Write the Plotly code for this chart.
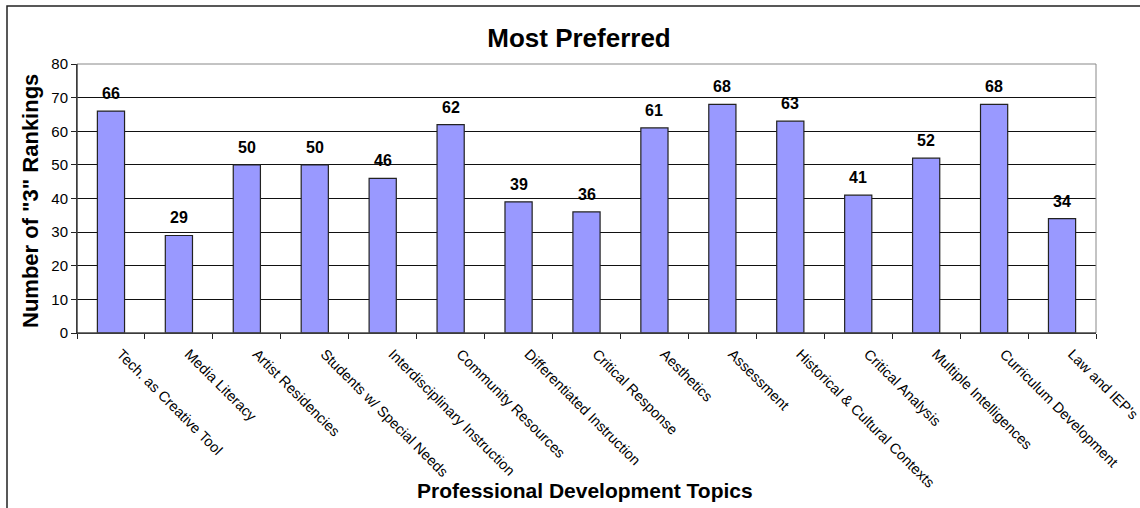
import plotly.graph_objects as go

categories = [
    "Tech. as Creative Tool", "Media Literacy", "Artist Residencies",
    "Students w/ Special Needs", "Interdisciplinary Instruction",
    "Community Resources", "Differentiated Instruction", "Critical Response",
    "Aesthetics", "Assessment", "Historical & Cultural Contexts",
    "Critical Analysis", "Multiple Intelligences", "Curriculum Development",
    "Law and IEP's",
]
values = [66, 29, 50, 50, 46, 62, 39, 36, 61, 68, 63, 41, 52, 68, 34]
y_ticks = [0, 10, 20, 30, 40, 50, 60, 70, 80]

FONT = "Liberation Sans, Arial, sans-serif"
W, H = 1140, 508
ML, MR, MT, MB = 77, 44, 64, 175
pw = W - ML - MR
ph = H - MT - MB

def px_x(p):
    return (p - ML) / pw

def px_y(p):
    return (H - MB - p) / ph

fig = go.Figure()
fig.add_trace(go.Bar(
    x=categories, y=values,
    marker=dict(color="#9999FF", line=dict(color="#222222", width=1.2)),
    width=0.4,
    hoverinfo="x+y",
))

annotations = [
    dict(x=c, y=v, xref="x", yref="y", text=f"<b>{v}</b>", showarrow=False,
         yanchor="bottom", yshift=7, font=dict(family=FONT, size=16, color="black"))
    for c, v in zip(categories, values)
]
annotations.append(dict(
    x=px_x(30), y=px_y(201), xref="paper", yref="paper", textangle=-90,
    text="<b>Number of \"3\" Rankings</b>", showarrow=False,
    xanchor="center", yanchor="middle",
    font=dict(family=FONT, size=22, color="black")))
annotations.append(dict(
    x=px_x(585), y=px_y(491), xref="paper", yref="paper",
    text="<b>Professional Development Topics</b>", showarrow=False,
    xanchor="center", yanchor="middle",
    font=dict(family=FONT, size=21, color="black")))

shapes = [
    dict(type="rect", xref="paper", yref="paper",
         x0=px_x(7), x1=px_x(1160), y0=px_y(530), y1=px_y(6),
         line=dict(color="#222222", width=1.5), layer="below"),
    dict(type="rect", xref="paper", yref="paper", x0=0, x1=1, y0=0, y1=1,
         line=dict(color="#888888", width=1), layer="above"),
    dict(type="line", xref="paper", yref="paper", x0=0, x1=0, y0=0, y1=1,
         line=dict(color="#222222", width=1), layer="above"),
    dict(type="line", xref="paper", yref="paper", x0=0, x1=1, y0=0, y1=0,
         line=dict(color="#222222", width=1), layer="above"),
]

fig.update_layout(
    width=W, height=H,
    margin=dict(l=ML, r=MR, t=MT, b=MB, autoexpand=False),
    paper_bgcolor="white", plot_bgcolor="white",
    showlegend=False,
    title=dict(text="<b>Most Preferred</b>", x=px_x(579), xref="paper",
               xanchor="center", y=1 - 38 / H, yref="container", yanchor="middle",
               font=dict(family=FONT, size=26, color="black")),
    font=dict(family=FONT, color="black"),
    annotations=annotations,
    shapes=shapes,
    bargap=0.6,
)
fig.update_xaxes(
    tickangle=45, tickfont=dict(family=FONT, size=14.5, color="black"),
    ticks="outside", tickson="boundaries", ticklen=5, tickcolor="#222222",
    ticklabelstandoff=6, ticklabelshift=10,
    showline=True, linecolor="#222222", linewidth=1,
    showgrid=False, automargin=False,
)
fig.update_yaxes(
    range=[0, 80], tickvals=y_ticks, ticktext=[str(t) for t in y_ticks],
    tickfont=dict(family=FONT, size=15, color="black"),
    ticks="outside", ticklen=5, tickcolor="#222222",
    showline=True, linecolor="#222222", linewidth=1,
    showgrid=True, gridcolor="#111111", gridwidth=1,
    zeroline=False, automargin=False,
)

fig.write_html("out.html")
